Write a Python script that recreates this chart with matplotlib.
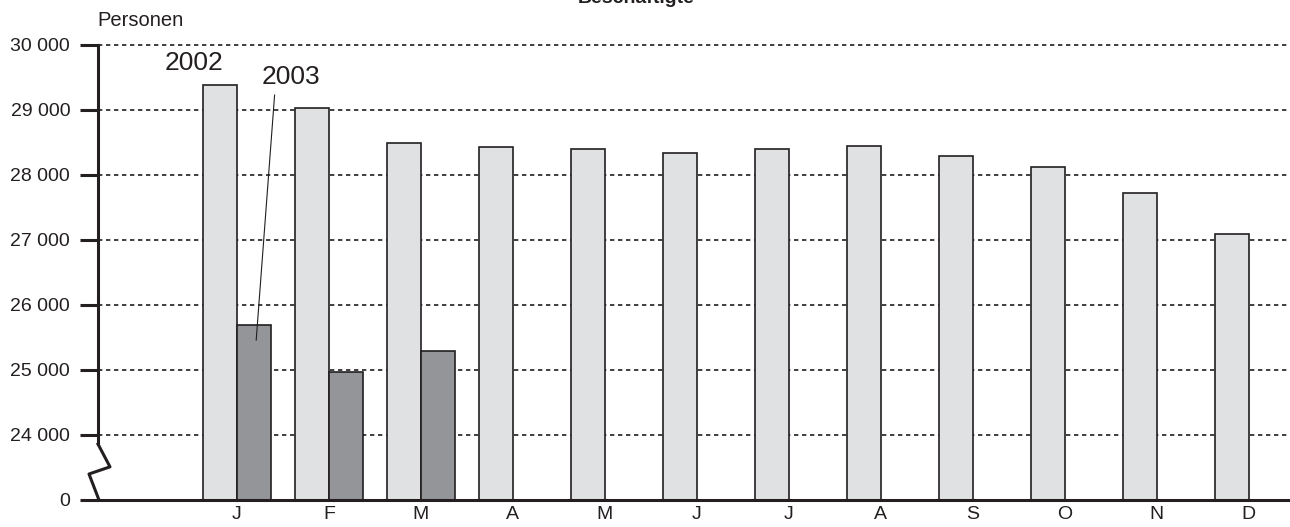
import matplotlib.pyplot as plt
import numpy as np

plt.rcParams['font.family'] = ['Liberation Sans', 'DejaVu Sans']

# Data
months = ['J', 'F', 'M', 'A', 'M', 'J', 'J', 'A', 'S', 'O', 'N', 'D']
vals_2002 = [29385, 29030, 28490, 28430, 28400, 28340, 28400, 28445, 28290, 28120, 27720, 27090]
vals_2003 = [25690, 24970, 25290]
yticks = [23000, 24000, 25000, 26000, 27000, 28000, 29000, 30000]
ytick_labels = ['0', '24 000', '25 000', '26 000', '27 000', '28 000', '29 000', '30 000']

# broken axis: the "0" sits one step below 24 000
base = 23000
W, H = 1290, 527

fig = plt.figure(figsize=(W / 100, H / 100), dpi=100)
ax = fig.add_axes([98 / W, 27 / H, (W - 98) / W, (500 - 45) / H])

x = np.arange(len(months))
bw = 0.37
ax.bar(x - bw / 2, np.array(vals_2002) - base, bw, bottom=base,
       color='#e0e1e3', edgecolor='#231f20', linewidth=1.2, zorder=3)
x3 = np.arange(len(vals_2003))
ax.bar(x3 + bw / 2, np.array(vals_2003) - base, bw, bottom=base,
       color='#939598', edgecolor='#231f20', linewidth=1.2, zorder=3)

ax.set_xlim(-1.51, 11.45)
ax.set_ylim(base, 30000)

# Grid lines
for t in yticks[1:]:
    ax.axhline(t, color='#231f20', linestyle=(0, (2.6, 2.2)), linewidth=1.2,
               zorder=1, clip_on=False)
ax.axhline(base, color='#231f20', linewidth=2.2, zorder=4, clip_on=False)

ax.set_yticks(yticks)
ax.set_yticklabels(ytick_labels)
ax.set_xticks(x)
ax.set_xticklabels(months)
ax.tick_params(axis='y', length=13, width=2.2, direction='out', pad=7,
               labelsize=14, color='#231f20', labelcolor='#231f20')
ax.tick_params(axis='x', length=0, pad=4, labelsize=14, labelcolor='#231f20')

for s in ['top', 'right', 'bottom']:
    ax.spines[s].set_visible(False)
ax.spines['left'].set_bounds(24000 - 140, 30000)
ax.spines['left'].set_linewidth(2.2)
ax.spines['left'].set_color('#231f20')

# axis break zigzag
zz_x = [-1.51, -1.51 + 12 / 92, -1.51 - 9 / 92, -1.51 + 1 / 92]
zz_y = [24000 - 140, 24000 - 490, 24000 - 600, base]
ax.plot(zz_x, zz_y, color='#231f20', linewidth=2.2, clip_on=False, zorder=5)

# Labels
fig.text(97 / W, 1 - 20 / H, 'Personen', ha='left', va='center',
         fontsize=14.5, color='#231f20')
fig.text(636 / W, 1 - 3 / H, 'Beschäftigte', ha='center', va='baseline',
         fontsize=14, fontweight='bold', color='#231f20')

ax.text(-0.47, 29720, '2002', ha='center', va='center', fontsize=19, color='#231f20')
ax.text(0.59, 29510, '2003', ha='center', va='center', fontsize=19, color='#231f20')
ax.plot([0.41, 0.21], [29230, 25460], color='#231f20', linewidth=0.8, zorder=6)

fig.savefig('out.png', dpi=100)
